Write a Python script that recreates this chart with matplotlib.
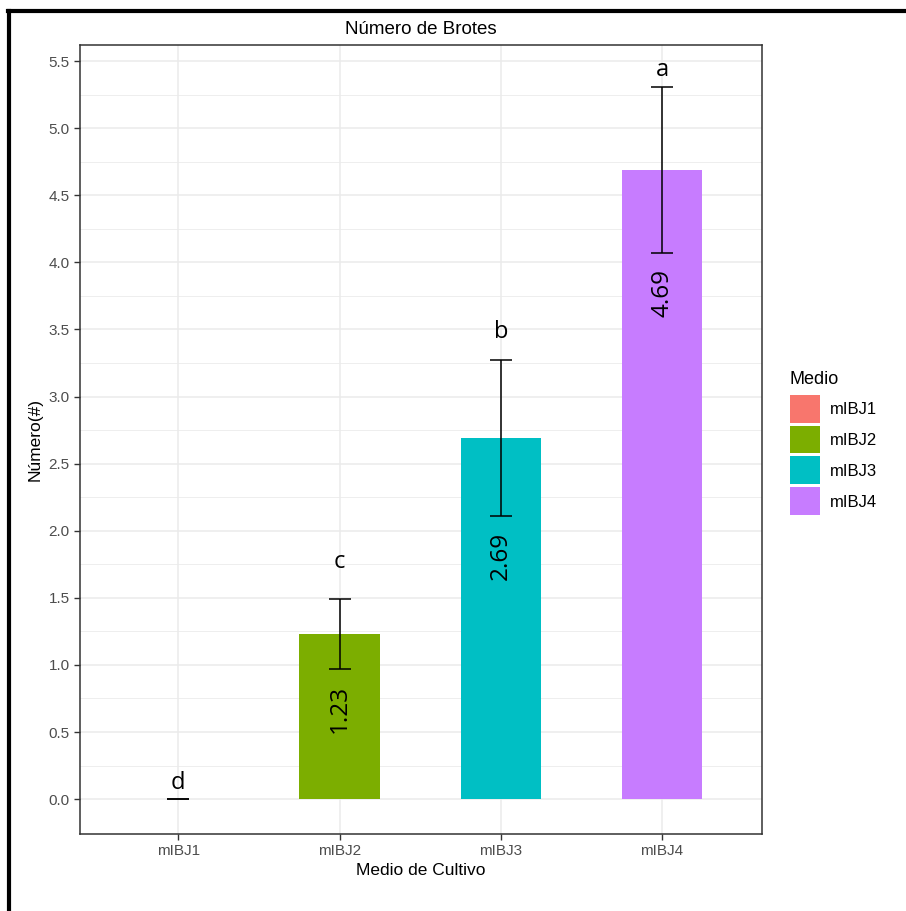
''' bar chart of shoot number per culture medium
'''
import numpy as np
import matplotlib.pyplot as plt
from matplotlib.lines import Line2D
from matplotlib.patches import Patch

medios = ['mIBJ1', 'mIBJ2', 'mIBJ3', 'mIBJ4']
medias = [0.0, 1.23, 2.69, 4.69]
errores = [0.0, 0.26, 0.58, 0.62]
letras = ['d', 'c', 'b', 'a']
letras_y = [0.12, 1.77, 3.48, 5.43]
colores = ['#F8766D', '#7CAE00', '#00BFC4', '#C77CFF']
yticks = [0.0, 0.5, 1.0, 1.5, 2.0, 2.5, 3.0, 3.5, 4.0, 4.5, 5.0, 5.5]

plt.rcParams['font.family'] = ['Liberation Sans', 'DejaVu Sans']
label_font = ['Open Sans', 'DejaVu Sans']
grey30 = '#4D4D4D'
grey20 = '#333333'

fig = plt.figure(figsize=(9.06, 9.11), dpi=100)
ax = fig.add_axes([80 / 906, 1 - 834 / 911, 682 / 906, 789 / 911])

x = np.arange(1, len(medios) + 1)
ax.bar(x, medias, width=0.5, color=colores, zorder=2)
ax.errorbar(x, medias, yerr=errores, fmt='none', ecolor='black',
            elinewidth=1.1, capsize=8, capthick=1.1, zorder=3)

for xi, m, e, let, ly in zip(x, medias, errores, letras, letras_y):
    ax.text(xi, ly, let, ha='center', va='center', fontsize=17,
            family=label_font, zorder=4)
    if m > 0:
        ax.text(xi, m - e - 0.12, f'{m:.2f}', rotation=90, ha='center',
                va='top', fontsize=17.5, family=label_font, zorder=4)

ax.set_xlim(0.39, 4.62)
ax.set_ylim(-0.26, 5.62)
ax.set_xticks(x)
ax.set_xticklabels(medios)
ax.set_yticks(yticks)
ax.set_yticklabels([f'{v:.1f}' for v in yticks])
ax.set_yticks(np.arange(0.25, 5.5, 0.5), minor=True)
ax.grid(True, which='major', color='#EBEBEB', linewidth=1.1, zorder=0)
ax.grid(True, which='minor', axis='y', color='#EBEBEB', linewidth=0.6, zorder=0)
ax.set_axisbelow(True)
ax.tick_params(axis='both', which='major', colors=grey20, labelcolor=grey30,
               labelsize=11, length=4, width=1)
ax.tick_params(axis='y', which='minor', length=0)
for s in ax.spines.values():
    s.set_color(grey20)
    s.set_linewidth(1.1)

ax.set_title('Número de Brotes', fontsize=13.5, pad=8)
ax.set_xlabel('Medio de Cultivo', fontsize=12.5, labelpad=3)
ax.set_ylabel('Número(#)', fontsize=12.5, labelpad=4)

handles = [Patch(facecolor=c, edgecolor='none') for c in colores]
leg = fig.legend(handles, medios, title='Medio', loc='upper left',
                 bbox_to_anchor=(783 / 906, 1 - 364 / 911), frameon=False,
                 fontsize=12, title_fontsize=13, handlelength=1.8,
                 handleheight=2.2, labelspacing=0.18, handletextpad=0.6,
                 borderaxespad=0)
leg._legend_box.align = 'left'
leg._legend_box.sep = 5

# thick frame along the top and left edge of the figure
fig.add_artist(Line2D([8 / 906, 1], [1 - 11 / 911, 1 - 11 / 911],
                      color='black', linewidth=3, transform=fig.transFigure))
fig.add_artist(Line2D([9 / 906, 9 / 906], [0, 1 - 11 / 911],
                      color='black', linewidth=3, transform=fig.transFigure))

fig.savefig('out.png', dpi=100)
